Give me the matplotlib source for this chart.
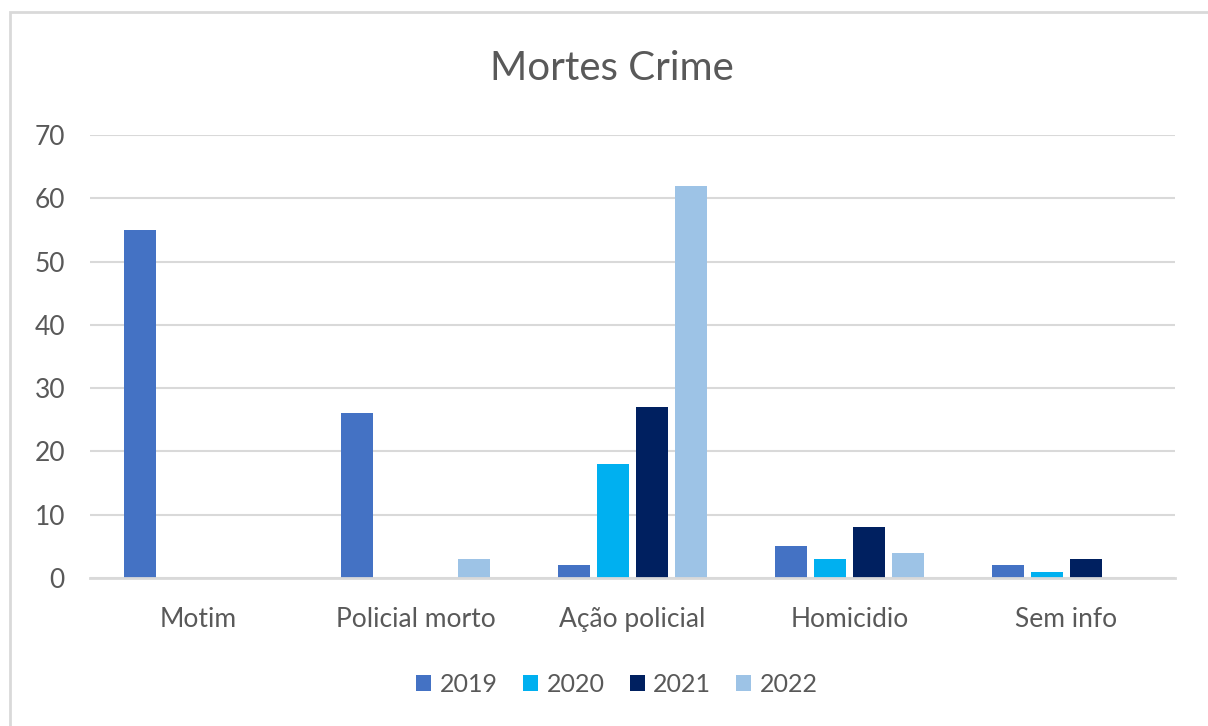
import numpy as np
import matplotlib.pyplot as plt
from matplotlib.patches import Rectangle

categorias = ['Motim', 'Policial morto', 'Ação policial', 'Homicidio', 'Sem info']
anos = ['2019', '2020', '2021', '2022']
v2019 = [55, 26, 2, 5, 2]
v2020 = [0, 0, 18, 3, 1]
v2021 = [0, 0, 27, 8, 3]
v2022 = [0, 3, 62, 4, 0]
cores = ['#4472c4', '#00b0f0', '#002060', '#9dc3e6']

plt.rcParams['font.family'] = ['Lato', 'DejaVu Sans']

fig = plt.figure(figsize=(12.08, 7.26), dpi=100)
ax = fig.add_axes([90 / 1208, 1 - 578 / 726, (1175 - 90) / 1208, (578 - 135) / 726])

x = np.arange(len(categorias))
passo = 0.18
largura = 0.147
series = [v2019, v2020, v2021, v2022]
for i, (vals, ano, cor) in enumerate(zip(series, anos, cores)):
    ax.bar(x + (i - 1.5) * passo, vals, largura, color=cor, label=ano, zorder=3)

ax.set_xlim(-0.5, len(categorias) - 0.5)
ax.set_ylim(0, 70)
ax.set_yticks(range(0, 71, 10))
ax.set_xticks(x)
ax.set_xticklabels(categorias)
ax.tick_params(axis='both', length=0, labelsize=19, colors='#595959')
ax.tick_params(axis='x', pad=21)
ax.tick_params(axis='y', pad=18)
ax.grid(axis='y', color='#d9d9d9', linewidth=1.5, zorder=0)
for s in ['top', 'right', 'left']:
    ax.spines[s].set_visible(False)
ax.spines['bottom'].set_color('#d9d9d9')
ax.spines['bottom'].set_linewidth(2)
ax.spines['bottom'].set_zorder(4)

fig.text(612 / 1208, 1 - 69 / 726, 'Mortes Crime', ha='center', va='center',
         fontsize=29, color='#595959')

leg = fig.legend(loc='center', bbox_to_anchor=(617 / 1208, 1 - 684 / 726), ncol=4,
                 frameon=False, fontsize=18, handlelength=0.6, handleheight=0.6,
                 columnspacing=1.0, handletextpad=0.35)
for t in leg.get_texts():
    t.set_color('#595959')

fig.patches.append(Rectangle((10 / 1208, -0.1), 1.2, 1 - 12 / 726 + 0.1,
                             transform=fig.transFigure, fill=False,
                             edgecolor='#d9d9d9', linewidth=2))

fig.savefig('out.png', dpi=100)
